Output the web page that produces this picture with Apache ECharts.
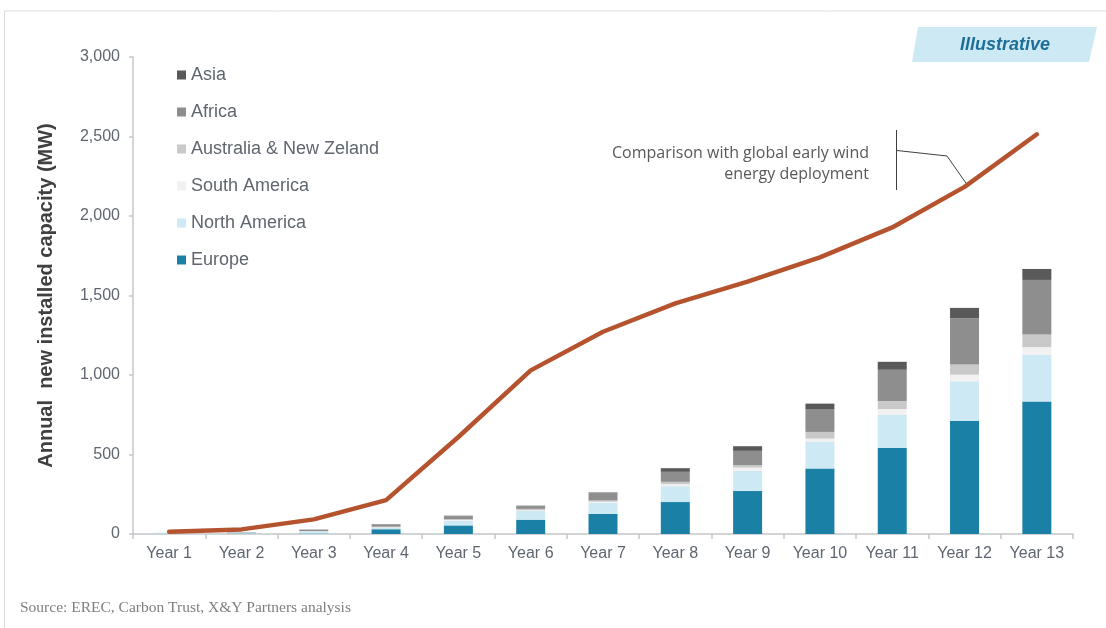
<!DOCTYPE html>
<html>
<head>
<meta charset="utf-8">
<script src="https://cdn.jsdelivr.net/npm/echarts@6/dist/echarts.min.js"></script>
<style>
  html, body { margin: 0; padding: 0; background: #ffffff; }
  #chart { width: 1106px; height: 628px; }
</style>
</head>
<body>
<div id="chart"></div>
<script>
// Categories (x axis)
const years = ['Year 1','Year 2','Year 3','Year 4','Year 5','Year 6','Year 7',
               'Year 8','Year 9','Year 10','Year 11','Year 12','Year 13'];

// Annual new installed capacity by region (MW), stacked bottom to top
const europe       = [2, 3, 3, 30, 54, 90, 127, 201, 270, 412, 541, 711, 834];
const northAmerica = [6, 5, 12, 10, 30, 55, 70, 100, 127, 167, 210, 249, 293];
const southAmerica = [0, 0, 1, 2, 4, 5, 6, 13, 21, 21, 35, 42, 48];
const australiaNZ  = [0, 2, 3, 4, 6, 8, 8, 14, 15, 42, 50, 64, 80];
const africa       = [0, 2, 8, 12, 18, 17, 44, 63, 90, 144, 197, 291, 343];
const asia         = [0, 0, 1, 3, 3, 3, 6, 23, 29, 34, 50, 65, 69];

// Global early wind energy deployment, for comparison (MW)
const windComparison = [14, 29, 92, 213, 610, 1029, 1272, 1451, 1587, 1740, 1928, 2183, 2514];

// Value axis ticks
const yMin = 0, yMax = 3000, yStep = 500;

const regionNames = ['Europe','North America','South America','Australia & New Zeland','Africa','Asia'];
const regionData  = [europe, northAmerica, southAmerica, australiaNZ, africa, asia];
const regionColors = ['#1B80A6', '#CDE9F4', '#F1F1F1', '#C9C9C9', '#8E8E8E', '#595959'];

const sans = 'Liberation Sans, Arial, sans-serif';

const chart = echarts.init(document.getElementById('chart'), null, { renderer: 'canvas' });

const barSeries = regionNames.map((name, i) => ({
  name: name,
  type: 'bar',
  stack: 'regions',
  barWidth: 29,
  data: regionData[i],
  itemStyle: { color: regionColors[i] },
  emphasis: { disabled: true },
  z: 2
}));

const option = {
  animation: false,
  backgroundColor: '#ffffff',
  grid: { left: 133, right: 33, top: 57, bottom: 94, containLabel: false },
  legend: {
    data: regionNames.slice().reverse(),
    orient: 'vertical',
    left: 177,
    top: 66,
    padding: 0,
    itemWidth: 9,
    itemHeight: 9,
    itemGap: 19,
    icon: 'rect',
    selectedMode: false,
    textStyle: { fontFamily: sans, fontSize: 18, color: '#5F6670', lineHeight: 18 }
  },
  xAxis: {
    type: 'category',
    data: years,
    boundaryGap: true,
    axisLine: { show: true, lineStyle: { color: '#C4C7CC', width: 1.5 } },
    axisTick: { show: true, length: 5, lineStyle: { color: '#C4C7CC', width: 1.5 } },
    axisLabel: { margin: 12, fontFamily: sans, fontSize: 16, color: '#5F6670' },
    splitLine: { show: false }
  },
  yAxis: {
    type: 'value',
    min: yMin,
    max: yMax,
    interval: yStep,
    name: 'Annual  new installed capacity (MW)',
    nameLocation: 'middle',
    nameGap: 77,
    nameTextStyle: { fontFamily: sans, fontSize: 20, fontWeight: 'bold', color: '#404040' },
    axisLine: { show: true, lineStyle: { color: '#C4C7CC', width: 1.5 } },
    axisTick: { show: true, length: 4, lineStyle: { color: '#C4C7CC', width: 1.5 } },
    axisLabel: {
      margin: 13,
      fontFamily: sans,
      fontSize: 16,
      color: '#5F6670',
      formatter: v => v.toLocaleString('en-US')
    },
    splitLine: { show: false }
  },
  series: barSeries.concat([{
    name: 'Comparison with global early wind energy deployment',
    type: 'line',
    data: windComparison,
    symbol: 'none',
    lineStyle: { color: '#B5532F', width: 4.5, cap: 'round', join: 'round' },
    emphasis: { disabled: true },
    z: 5
  }])
};

chart.setOption(option);

// Callout pointing at the comparison line in Year 12
const target = chart.convertToPixel({ seriesIndex: 6 }, [11, windComparison[11]]);

chart.setOption({
  graphic: [
    // frame
    { type: 'line', shape: { x1: 4, y1: 11, x2: 1106, y2: 11 }, style: { stroke: '#DCDCDC', lineWidth: 1 }, silent: true },
    { type: 'line', shape: { x1: 4.5, y1: 11, x2: 4.5, y2: 628 }, style: { stroke: '#DCDCDC', lineWidth: 1 }, silent: true },
    // "Illustrative" tag
    {
      type: 'polygon',
      shape: { points: [[918, 27], [1097, 27], [1089, 62], [912, 62]] },
      style: { fill: '#CDE9F4' },
      silent: true
    },
    {
      type: 'text',
      x: 1005, y: 45,
      style: {
        text: 'Illustrative',
        fontFamily: sans,
        fontSize: 18, fontWeight: 'bold', fontStyle: 'italic',
        fill: '#1D6E98', align: 'center', verticalAlign: 'middle'
      },
      silent: true
    },
    // annotation text
    {
      type: 'text',
      x: 869, y: 164,
      style: {
        text: 'Comparison with global early wind\nenergy deployment',
        fontFamily: 'Open Sans, sans-serif',
        fontSize: 16, lineHeight: 21,
        fill: '#595959', align: 'right', verticalAlign: 'middle'
      },
      silent: true
    },
    // bracket and leader line
    { type: 'line', shape: { x1: 896.5, y1: 130, x2: 896.5, y2: 190 }, style: { stroke: '#404040', lineWidth: 1 }, silent: true },
    {
      type: 'polyline',
      shape: { points: [[897, 150.5], [947, 156], [target[0] + 2, target[1] - 3]] },
      style: { stroke: '#404040', lineWidth: 1, fill: null },
      silent: true
    },
    // source note
    {
      type: 'text',
      x: 20, y: 608,
      style: {
        text: 'Source: EREC, Carbon Trust, X&Y Partners analysis',
        fontFamily: 'Liberation Serif, serif',
        fontSize: 15.5,
        fill: '#7F7F7F', align: 'left', verticalAlign: 'middle'
      },
      silent: true
    }
  ]
});
</script>
</body>
</html>
